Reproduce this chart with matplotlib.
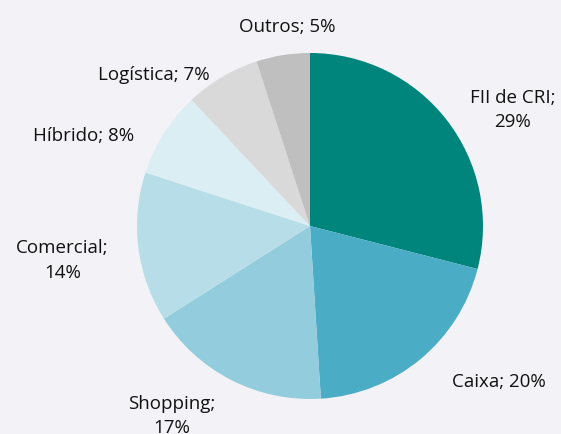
import numpy as np
import matplotlib.pyplot as plt

plt.rcParams['font.family'] = ['Open Sans', 'DejaVu Sans']

categories = ['FII de CRI', 'Caixa', 'Shopping', 'Comercial', 'Híbrido', 'Logística', 'Outros']
shares = [29, 20, 17, 14, 8, 7, 5]
label_text = ['FII de CRI;\n29%', 'Caixa; 20%', 'Shopping;\n17%', 'Comercial;\n14%',
              'Híbrido; 8%', 'Logística; 7%', 'Outros; 5%']

colors = ['#00857D', '#4BACC6', '#93CDDD', '#B7DEE8', '#DBEEF4', '#D9D9D9', '#BFBFBF']
# label positions in pie-radius units (hand placed, like Excel best fit)
label_pos = [(1.17, 0.67), (1.09, -0.90), (-0.80, -1.10), (-1.43, -0.20),
             (-1.31, 0.52), (-0.90, 0.87), (-0.13, 1.15)]

bg = '#F3F2F7'
W, H = 561, 434
cx, cy, R = 310, 226, 173

fig = plt.figure(figsize=(W / 100, H / 100), dpi=100, facecolor=bg)
ax = fig.add_axes([0, 0, 1, 1])
ax.set_facecolor(bg)

ax.pie(shares, colors=colors, startangle=90, counterclock=False,
       wedgeprops=dict(linewidth=0))

for (x, y), t in zip(label_pos, label_text):
    ax.text(x, y, t, ha='center', va='center', multialignment='center',
            fontsize=13.5, color='#111111', linespacing=1.45)

ax.set_xlim(-cx / R, (W - cx) / R)
ax.set_ylim((cy - H) / R, cy / R)
ax.set_aspect('equal', adjustable='box')
ax.axis('off')

fig.savefig('out.png', dpi=100, facecolor=bg)
